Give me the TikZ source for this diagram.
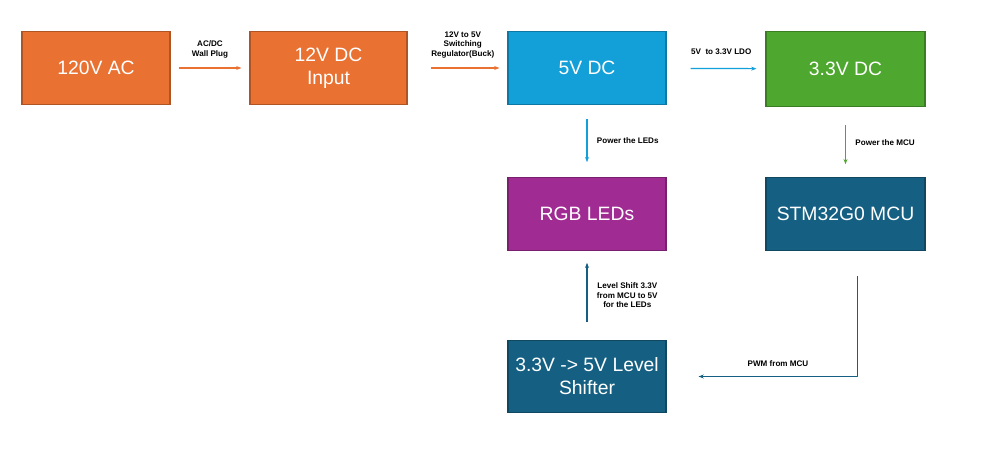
\documentclass[tikz,border=0pt]{standalone}
\usepackage{fontspec}
\setmainfont{Liberation Sans}
\definecolor{pwOrange}{HTML}{E97132}
\definecolor{pwBlue}{HTML}{139FD8}
\definecolor{pwGreen}{HTML}{4EA72E}
\definecolor{pwPurple}{HTML}{A02B93}
\definecolor{pwTeal}{HTML}{156082}
\usetikzlibrary{calc,positioning,arrows.meta}

\begin{document}
\begin{tikzpicture}[
  block/.style={draw=#1!75!black, fill=#1, text=white, line width=0.6pt,
    minimum width=3.1cm, minimum height=1.45cm, align=center,
    font=\fontsize{11}{13}\selectfont},
  lbl/.style={font=\fontsize{4.6}{5.4}\selectfont\bfseries, align=center},
  arr/.style={-{Stealth[length=3pt]}, line width=0.7pt, draw=#1}
]
  \useasboundingbox (0,0) rectangle (20,-9.28);
  \node[block=pwOrange, minimum width=2.96cm] (ac) at (1.92,-1.36) {120V AC};
  \node[block=pwOrange, minimum width=3.14cm] (dcin) at (6.57,-1.36) {12V DC\\Input};
  \node[block=pwBlue, minimum width=3.16cm] (five) at (11.74,-1.36) {5V DC};
  \node[block=pwGreen, minimum width=3.18cm, minimum height=1.5cm] (three) at (16.91,-1.38) {3.3V DC};
  \node[block=pwPurple, minimum width=3.16cm] (leds) at (11.74,-4.28) {RGB LEDs};
  \node[block=pwTeal, minimum width=3.18cm] (mcu) at (16.91,-4.28) {STM32G0 MCU};
  \node[block=pwTeal, minimum width=3.16cm] (shift) at (11.74,-7.53) {3.3V -> 5V Level\\Shifter};

  % supply chain
  \draw[arr=pwOrange, shorten <=0.16cm, shorten >=0.16cm] (ac) -- (dcin)
    node[lbl, midway, above=2pt] {AC/DC\\Wall Plug};
  \draw[arr=pwOrange, shorten <=0.46cm, shorten >=0.16cm] (dcin) -- (five)
    node[lbl, midway, above=2pt, xshift=3pt] {12V to 5V\\Switching\\Regulator(Buck)};
  \draw[arr=pwBlue, shorten <=0.48cm, shorten >=0.18cm] (five) -- (three)
    node[lbl, midway, above=4pt, xshift=3pt] {5V\ \ to 3.3V LDO};
  \draw[arr=pwBlue, shorten <=0.28cm, shorten >=0.3cm] (five) -- (leds)
    node[lbl, midway, right=2pt] {Power the LEDs};
  \draw[arr=pwGreen, shorten <=0.36cm, shorten >=0.26cm] (three) -- (mcu)
    node[lbl, midway, right=2pt] {Power the MCU};

  % signal path
  \draw[arr=pwTeal, shorten <=0.36cm, shorten >=0.24cm] (shift) -- (leds)
    node[lbl, midway, right=2pt] {Level Shift 3.3V\\from MCU to 5V\\for the LEDs};
  \coordinate (pwmtop) at ($(mcu.south)+(0.24,-0.5)$);
  \coordinate (pwmend) at ($(shift.east)+(0.64,0)$);
  \draw[arr=pwTeal, line join=round] (pwmtop) |- (pwmend)
    node[lbl, pos=0.75, above=2pt] {PWM from MCU};
\end{tikzpicture}
\end{document}
